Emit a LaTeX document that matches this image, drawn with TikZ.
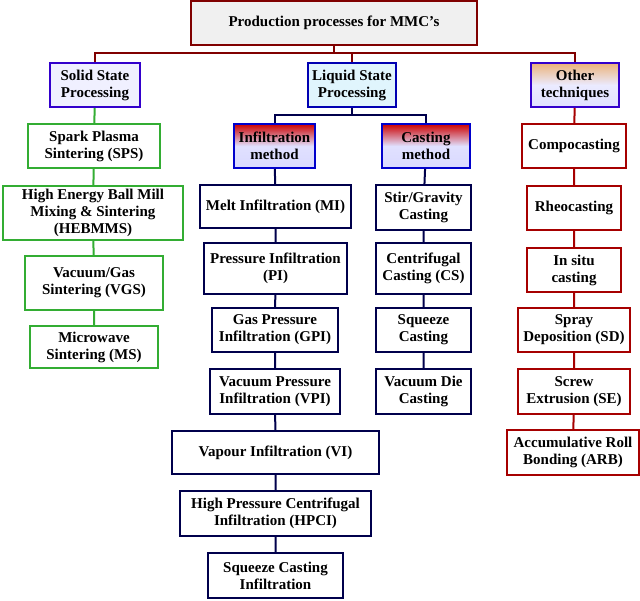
\documentclass[tikz,border=0pt]{standalone}
\usepackage{fontspec}
\setmainfont{Liberation Serif}
\begin{document}
\begin{tikzpicture}[x=1pt,y=-1pt,
  base/.style={draw, line width=2pt, align=center, inner sep=0pt, font=\fontsize{15}{17}\selectfont\bfseries},
  titleb/.style={base, draw=red!50!black, fill=gray!12},
  sol/.style={base, draw=blue!60!violet, fill=blue!6},
  liq/.style={base, draw=blue!70!black, fill=cyan!12},
  oth/.style={base, draw=blue!60!violet, top color=orange!50!brown!60, bottom color=blue!12, middle color=blue!8},
  meth/.style={base, draw=blue!80!black, top color=red!80!black, bottom color=blue!15, middle color=blue!12},
  grn/.style={base, draw=green!60!black!80, fill=white},
  inf/.style={base, draw=blue!30!black, fill=white},
  red/.style={base, draw=red!65!black, fill=white},
  cred/.style={line width=2pt, draw=red!50!black},
  cblue/.style={line width=2pt, draw=blue!30!black},
  cgrn/.style={line width=2pt, draw=green!60!black!80},
  cr/.style={line width=2pt, draw=red!65!black}]
\useasboundingbox (0,0) rectangle (640,600);
\def\bx#1#2#3#4#5#6#7#8{\node[#2, minimum width=#5-#3, minimum height=#6-#4] (#1) at ({(#3+#5)/2},{(#4+#6)/2}) {#7};}
\coordinate (b1) at (334,53);
\coordinate (b2) at (352,115);
\bx{top}{titleb}{191}{1}{477}{45}{Production processes for MMC's}{}
\bx{solid}{sol}{50}{63}{140}{107}{Solid State\\Processing}{}
\bx{liquid}{liq}{308}{63}{396}{107}{Liquid State\\Processing}{}
\bx{other}{oth}{531}{63}{619}{107}{Other\\techniques}{}
\bx{infm}{meth}{234}{124}{315}{168}{Infiltration\\method}{}
\bx{cast}{meth}{382}{124}{470}{168}{Casting\\method}{}
\bx{sps}{grn}{28}{124}{160}{168}{Spark Plasma\\Sintering (SPS)}{}
\bx{heb}{grn}{3}{186}{183}{240}{High Energy Ball Mill\\Mixing \& Sintering\\(HEBMMS)}{}
\bx{vgs}{grn}{25}{256}{163}{310}{Vacuum/Gas\\Sintering (VGS)}{}
\bx{ms}{grn}{30}{326}{158}{368}{Microwave\\Sintering (MS)}{}
\bx{mi}{inf}{200}{185}{351}{228}{Melt Infiltration (MI)}{}
\bx{pi}{inf}{204}{243}{347}{294}{Pressure Infiltration\\(PI)}{}
\bx{gpi}{inf}{212}{308}{338}{352}{Gas Pressure\\Infiltration (GPI)}{}
\bx{vpi}{inf}{210}{369}{340}{414}{Vacuum Pressure\\Infiltration (VPI)}{}
\bx{vi}{inf}{172}{431}{379}{474}{Vapour Infiltration (VI)}{}
\bx{hpci}{inf}{180}{491}{371}{536}{High Pressure Centrifugal\\Infiltration (HPCI)}{}
\bx{sci}{inf}{208}{553}{343}{598}{Squeeze Casting\\Infiltration}{}
\bx{stir}{inf}{376}{185}{471}{230}{Stir/Gravity\\Casting}{}
\bx{cs}{inf}{376}{243}{471}{294}{Centrifugal\\Casting (CS)}{}
\bx{sq}{inf}{376}{308}{471}{352}{Squeeze\\Casting}{}
\bx{vdc}{inf}{376}{369}{471}{414}{Vacuum Die\\Casting}{}
\bx{comp}{red}{522}{124}{626}{168}{Compocasting}{}
\bx{rheo}{red}{527}{186}{621}{230}{Rheocasting}{}
\bx{insitu}{red}{527}{248}{621}{292}{In situ\\casting}{}
\bx{sd}{red}{518}{308}{630}{352}{Spray\\Deposition (SD)}{}
\bx{se}{red}{518}{369}{630}{414}{Screw\\Extrusion (SE)}{}
\bx{arb}{red}{507}{430}{639}{475}{Accumulative Roll\\Bonding (ARB)}{}
\draw[cred] (top.south) -- (b1);
\draw[cred] (b1) -| (solid.north);
\draw[cred] (b1) -| (liquid.north);
\draw[cred] (b1) -| (other.north);
\draw[cblue] (liquid.south) -- (liquid.south |- b2);
\draw[cblue] (liquid.south |- b2) -| (infm.north);
\draw[cblue] (liquid.south |- b2) -| (cast.north);
\draw[cgrn] (solid) -- (sps) (sps) -- (heb) (heb) -- (vgs) (vgs) -- (ms);
\draw[cblue] (infm) -- (mi) (mi) -- (pi) (pi) -- (gpi) (gpi) -- (vpi) (vpi) -- (vi) (vi) -- (hpci) (hpci) -- (sci);
\draw[cblue] (cast) -- (stir) (stir) -- (cs) (cs) -- (sq) (sq) -- (vdc);
\draw[cr] (other) -- (comp) (comp) -- (rheo) (rheo) -- (insitu) (insitu) -- (sd) (sd) -- (se) (se) -- (arb);
\end{tikzpicture}
\end{document}
